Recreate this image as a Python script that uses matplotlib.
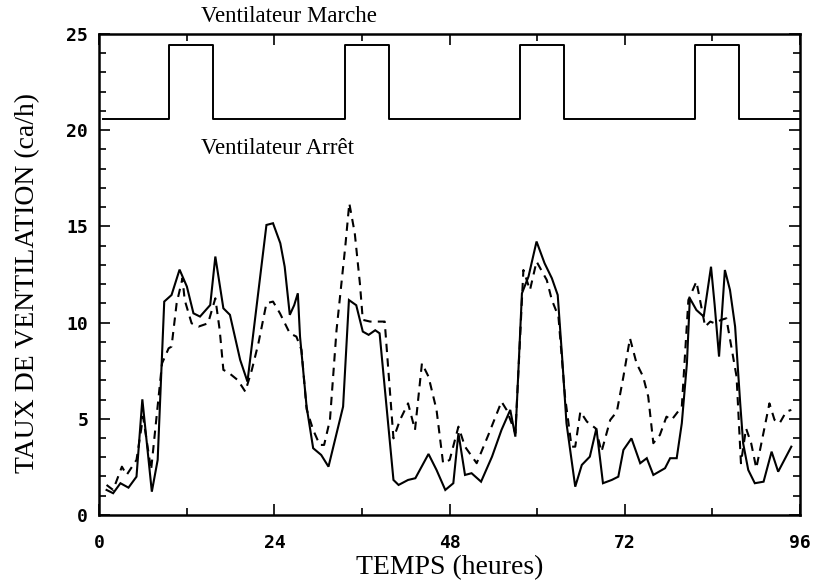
import numpy as np
import matplotlib
matplotlib.use("Agg")
import matplotlib.pyplot as plt
from matplotlib.ticker import MultipleLocator, FixedLocator

# Measured air change rate (solid) and model (dashed), in ca/h
t_solid = [1.0, 1.9, 2.9, 4.0, 5.1, 5.9, 7.2, 8.0, 8.9, 9.9, 11.0, 12.0, 12.9, 13.8,
           15.2, 15.9, 17.0, 17.9, 19.3, 20.3, 22.9, 23.8, 24.8, 25.4, 26.1, 26.7,
           27.2, 27.5, 28.4, 29.3, 30.4, 31.4, 33.4, 34.2, 35.2, 36.1, 36.9, 37.8,
           38.4, 40.3, 41.0, 42.3, 43.3, 45.1, 46.2, 47.4, 48.5, 49.2, 50.1, 51.0,
           52.3, 53.8, 55.1, 56.3, 57.0, 57.9, 58.8, 59.9, 61.0, 62.0, 62.8, 63.4,
           64.0, 65.2, 66.1, 67.2, 68.1, 69.0, 70.2, 71.1, 71.8, 72.9, 74.1, 75.0,
           75.9, 77.5, 78.2, 79.1, 79.8, 80.5, 80.9, 81.8, 82.8, 83.2, 83.8, 84.3,
           84.9, 85.7, 86.4, 87.1, 87.8, 88.2, 88.9, 89.8, 91.0, 92.1, 93.0, 94.8]
ach_solid = [1.30, 1.13, 1.65, 1.42, 1.99, 6.01, 1.21, 2.86, 11.09, 11.43, 12.75, 11.87,
             10.48, 10.31, 10.91, 13.43, 10.74, 10.4, 8.06, 6.93, 15.07, 15.16, 14.12,
             12.9, 10.4, 10.9, 11.52, 9.27, 5.63, 3.47, 3.12, 2.51, 5.63, 11.17, 10.9,
             9.53, 9.36, 9.6, 9.44, 1.82, 1.56, 1.82, 1.91, 3.17, 2.34, 1.30, 1.65,
             4.25, 2.08, 2.17, 1.73, 3.03, 4.42, 5.46, 4.07, 11.52, 12.39, 14.21, 13.08,
             12.3, 11.43, 8.23, 4.77, 1.47, 2.6, 3.03, 4.5, 1.65, 1.82, 1.99, 3.38,
             3.98, 2.69, 2.95, 2.08, 2.43, 2.95, 2.95, 4.77, 7.88, 11.26, 10.65, 10.31,
             11.35, 12.9, 10.91, 8.23, 12.73, 11.69, 9.79, 5.8, 3.73, 2.34, 1.65, 1.73,
             3.29, 2.25, 3.55]

t_dash = [1.0, 1.9, 3.1, 3.75, 5.1, 6.0, 7.1, 8.6, 9.5, 9.9, 10.6, 11.4, 11.7, 12.65,
          13.6, 14.9, 15.9, 16.5, 17.0, 17.7, 19.0, 20.0, 20.9, 21.8, 22.9, 23.8, 24.75,
          26.1, 27.0, 27.7, 28.4, 29.3, 30.2, 30.8, 31.6, 32.5, 33.7, 34.25, 35.0, 35.7,
          36.1, 37.1, 39.1, 40.3, 41.2, 42.3, 43.25, 44.2, 45.1, 46.2, 47.1, 48.0, 49.2,
          50.1, 51.7, 53.3, 55.1, 55.8, 57.0, 58.1, 59.0, 59.9, 61.3, 62.0, 62.9, 63.8,
          64.7, 65.2, 65.9, 66.8, 68.0, 68.8, 70.0, 70.9, 71.8, 72.7, 73.6, 74.5, 75.2,
          75.9, 76.8, 77.7, 78.4, 79.8, 80.7, 81.8, 83.0, 83.7, 84.3, 85.2, 85.9, 87.3,
          87.9, 88.6, 89.3, 90.0, 90.7, 91.8, 92.5, 93.2, 94.1, 94.8]
ach_dash = [1.56, 1.30, 2.51, 2.08, 2.86, 5.11, 2.34, 7.88, 8.66, 8.75, 11.0, 12.3, 11.17,
            9.96, 9.79, 9.96, 11.26, 9.6, 7.54, 7.4, 7.0, 6.41, 7.54, 8.92, 11.0, 11.09,
            10.48, 9.44, 9.27, 8.58, 5.5, 4.42, 3.64, 3.64, 4.94, 9.6, 13.95, 16.2, 14.64,
            12.04, 10.14, 10.05, 10.05, 3.98, 4.94, 5.8, 4.42, 7.88, 7.19, 5.46, 2.69,
            2.86, 4.59, 3.55, 2.69, 4.16, 5.89, 5.46, 4.25, 12.73, 11.69, 13.17, 12.21,
            11.17, 10.31, 6.15, 3.55, 3.55, 5.37, 4.85, 4.5, 3.29, 4.94, 5.37, 7.19, 9.18,
            7.88, 7.19, 6.15, 3.73, 4.16, 5.11, 4.94, 5.63, 11.17, 12.13, 9.79, 10.05,
            9.96, 10.14, 10.22, 7.19, 2.69, 4.5, 3.73, 2.43, 3.73, 5.8, 4.94, 4.77, 5.37,
            5.46]

# Fan schedule drawn as a step trace at the top of the plot
fan_t = [0.5, 9.5, 9.5, 15.6, 15.6, 33.6, 33.6, 39.7, 39.7, 57.6, 57.6, 63.7, 63.7,
         81.6, 81.6, 87.7, 87.7, 96.0]
fan_level = [20.6, 20.6, 24.4, 24.4, 20.6, 20.6, 24.4, 24.4, 20.6, 20.6, 24.4, 24.4,
             20.6, 20.6, 24.4, 24.4, 20.6, 20.6]

x_ticks = [0, 24, 48, 72, 96]
y_ticks = [0, 5, 10, 15, 20, 25]

serif = "Liberation Serif"
tickfont = {"family": ["Liberation Sans Narrow", "DejaVu Sans Mono"],
            "weight": "bold", "size": 13}

fig = plt.figure(figsize=(8.13, 5.86), dpi=100)
ax = fig.add_axes([0.1221, 0.1212, 0.862, 0.821])

ax.plot(t_solid, ach_solid, color="black", lw=1.5, solid_joinstyle="miter")
ax.plot(t_dash, ach_dash, color="black", lw=1.5, dashes=(4, 3))
ax.plot(fan_t, fan_level, color="black", lw=1.4)

ax.set_xlim(0, 96)
ax.set_ylim(0, 25)
ax.xaxis.set_major_locator(FixedLocator(x_ticks))
ax.xaxis.set_minor_locator(MultipleLocator(12))
ax.yaxis.set_major_locator(FixedLocator(y_ticks))
ax.yaxis.set_minor_locator(MultipleLocator(1))
ax.tick_params(which="both", direction="in", top=True, right=True, width=1.2)
ax.tick_params(which="major", length=8)
ax.tick_params(which="minor", length=5)
ax.tick_params(axis="x", which="major", pad=14)
ax.tick_params(axis="y", which="major", pad=8)
for s in ax.spines.values():
    s.set_linewidth(1.8)

ax.set_xticklabels([str(v) for v in x_ticks], fontdict=tickfont)
ax.set_yticklabels([str(v) for v in y_ticks], fontdict=tickfont)

ax.set_xlabel("TEMPS (heures)", family=serif, fontsize=20)
ax.set_ylabel("TAUX DE VENTILATION (ca/h)", family=serif, fontsize=20)
ax.xaxis.set_label_coords(0.5005, -0.083)
ax.yaxis.set_label_coords(-0.084, 0.482)

ax.text(13.9, 25.35, "Ventilateur Marche", family=serif, fontsize=16.5,
        ha="left", va="bottom")
ax.text(13.9, 19.6, "Ventilateur Arrêt", family=serif, fontsize=16.5,
        ha="left", va="top")

fig.savefig("out.png", dpi=100)
